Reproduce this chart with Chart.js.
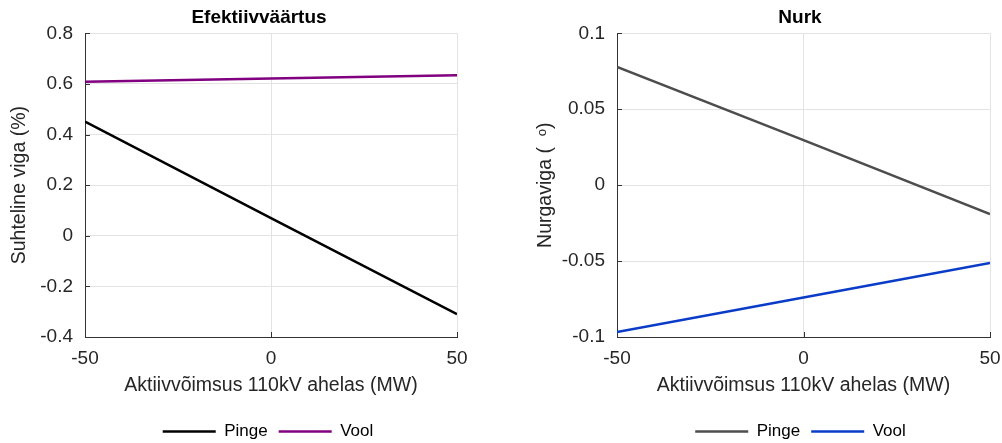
<!DOCTYPE html>
<html>
<head>
<meta charset="utf-8">
<script src="https://cdn.jsdelivr.net/npm/chart.js@4.4.1/dist/chart.umd.min.js"></script>
<style>
  html, body { margin: 0; padding: 0; background: #ffffff; }
  .panel { position: absolute; top: 0; width: 501px; height: 443px; overflow: hidden; }
  canvas { display: block; }
</style>
</head>
<body>
<div class="panel" style="left:0"><canvas id="rms" width="501" height="450"></canvas></div>
<div class="panel" style="left:501px"><canvas id="angle" width="501" height="450"></canvas></div>
<script>
// Active power through the 110 kV circuit (MW)
const powerMW = [-50, 0, 50];

// Relative RMS error (%)
const rmsVoltage = [0.451, 0.070, -0.310];
const rmsCurrent = [0.609, 0.621, 0.634];

// Angle error (degrees)
const angleVoltage = [0.0778, 0.0296, -0.0190];
const angleCurrent = [-0.0968, -0.0740, -0.0512];

// Axis ticks
const xTickValues = [-50, 0, 50];
const rmsTickValues = [-0.4, -0.2, 0, 0.2, 0.4, 0.6, 0.8];
const angleTickValues = [-0.1, -0.05, 0, 0.05, 0.1];

const seriesNames = ['Pinge', 'Vool'];
const xAxisTitle = 'Aktiivvõimsus 110kV ahelas (MW)';

const FONT = '"Liberation Sans", Arial, Helvetica, sans-serif';
const AXIS = '#333333';
const GRID = '#e3e3e3';

// Inward tick marks, legend and title centred under/over the plot box
const axisDecor = {
  id: 'axisDecor',
  afterLayout(chart, args, opts) {
    const a = chart.chartArea;
    const lg = chart.legend;
    if (lg) {
      const s = opts.legendShift || 0;
      lg.left = a.left + s; lg.right = a.right + s; lg.width = a.right - a.left;
    }
    const tb = chart.titleBlock;
    if (tb) {
      const s = opts.titleShift || 0;
      tb.left = a.left + s; tb.right = a.right + s; tb.width = a.right - a.left;
    }
  },
  beforeDatasetsDraw(chart) {
    const { ctx, chartArea: a, scales: { x, y } } = chart;
    ctx.save();
    ctx.strokeStyle = AXIS;
    ctx.lineWidth = 1;
    ctx.beginPath();
    x.ticks.forEach(t => {
      const px = Math.round(x.getPixelForValue(t.value)) + 0.5;
      ctx.moveTo(px, a.bottom); ctx.lineTo(px, a.bottom - 5);
    });
    y.ticks.forEach(t => {
      const py = Math.round(y.getPixelForValue(t.value)) + 0.5;
      ctx.moveTo(a.left, py); ctx.lineTo(a.left + 5, py);
    });
    ctx.stroke();
    ctx.restore();
  }
};

function points(values) {
  return powerMW.map((x, i) => ({ x, y: values[i] }));
}

function makeChart(id, cfg) {
  return new Chart(document.getElementById(id), {
    type: 'line',
    data: {
      datasets: cfg.series.map(s => ({
        label: s.name,
        data: points(s.values),
        borderColor: s.color,
        backgroundColor: s.color,
        borderWidth: 2.5,
        pointRadius: 0,
        tension: 0
      }))
    },
    options: {
      responsive: false,
      animation: false,
      devicePixelRatio: 1,
      layout: { padding: { left: 0, right: cfg.padRight, top: 0, bottom: 0 } },
      scales: {
        x: {
          type: 'linear',
          min: -50, max: 50,
          afterBuildTicks: sc => { sc.ticks = xTickValues.map(v => ({ value: v })); },
          afterFit: sc => { sc.paddingLeft = 0; sc.paddingRight = 0; },
          ticks: { color: '#262626', font: { family: FONT, size: 19 }, padding: 10, maxRotation: 0,
                   callback: v => String(v) },
          grid: { color: GRID, drawTicks: false },
          border: { display: true, color: AXIS, width: 1 },
          title: { display: true, text: xAxisTitle, color: '#262626',
                   font: { family: FONT, size: 19.5 }, padding: { top: -5.5, bottom: 14.3 } }
        },
        y: {
          type: 'linear',
          min: cfg.yMin, max: cfg.yMax,
          afterBuildTicks: sc => { sc.ticks = cfg.yTicks.map(v => ({ value: v })); },
          afterFit: sc => { sc.width = cfg.yAxisWidth; sc.paddingTop = 0; sc.paddingBottom = 0; },
          ticks: { color: '#262626', font: { family: FONT, size: 19 }, padding: 12,
                   callback: v => String(v) },
          grid: { color: GRID, drawTicks: false },
          border: { display: true, color: AXIS, width: 1 },
          title: { display: true, text: cfg.yTitle, color: '#262626',
                   font: { family: FONT, size: 19.5 }, padding: { top: cfg.yTitlePad, bottom: 0 } }
        }
      },
      plugins: {
        title: { display: true, text: cfg.title, color: '#000000',
                 font: { family: FONT, size: 19, weight: 'bold' }, padding: { top: 6, bottom: 4.5 } },
        legend: {
          position: 'bottom',
          labels: { color: '#000000', font: { family: FONT, size: 17 }, padding: 11,
                    usePointStyle: true, pointStyle: 'line', pointStyleWidth: 53 }
        },
        tooltip: { enabled: false },
        axisDecor: { titleShift: cfg.titleShift, legendShift: -3 }
      }
    },
    plugins: [axisDecor]
  });
}

makeChart('rms', {
  title: 'Efektiivväärtus',
  yTitle: 'Suhteline viga (%)',
  yMin: -0.4, yMax: 0.8, yTicks: rmsTickValues,
  yAxisWidth: 85, yTitlePad: 8.3, padRight: 44, titleShift: -12,
  series: [
    { name: seriesNames[0], values: rmsVoltage, color: '#000000' },
    { name: seriesNames[1], values: rmsCurrent, color: '#800080' }
  ]
});

makeChart('angle', {
  title: 'Nurk',
  yTitle: 'Nurgaviga (  ᵒ)',
  yMin: -0.1, yMax: 0.1, yTicks: angleTickValues,
  yAxisWidth: 116, yTitlePad: 33.3, padRight: 12, titleShift: -3.5,
  series: [
    { name: seriesNames[0], values: angleVoltage, color: '#4d4d4d' },
    { name: seriesNames[1], values: angleCurrent, color: '#0a3cc8' }
  ]
});
</script>
</body>
</html>
